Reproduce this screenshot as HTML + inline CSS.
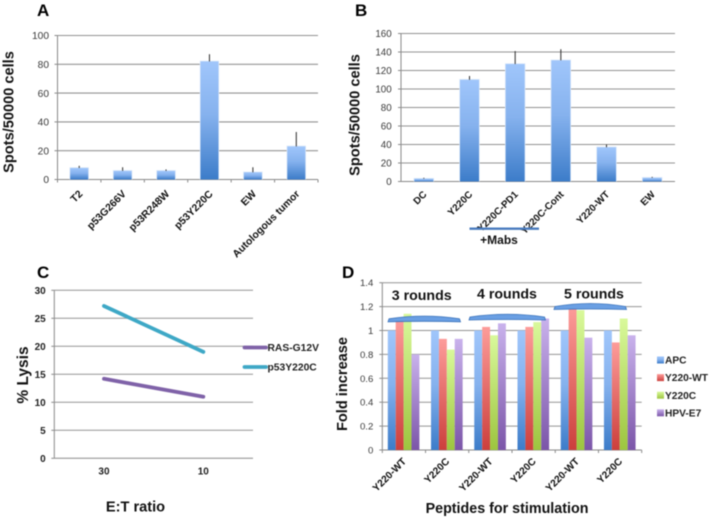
<!DOCTYPE html>
<html>
<head>
<meta charset="utf-8">
<style>
html,body{margin:0;padding:0;background:#fff;}
#fig{display:block;width:709px;height:519px;font-family:"Liberation Sans",sans-serif;filter:blur(0.5px);}
</style>
</head>
<body>
<svg id="fig" xmlns="http://www.w3.org/2000/svg" width="709" height="519" viewBox="0 0 709 519">
<defs>
<linearGradient id="g-blue" x1="0" y1="0" x2="0" y2="1"><stop offset="0" stop-color="#a0c6fb"/><stop offset="0.45" stop-color="#86b2ee"/><stop offset="1" stop-color="#3c7cc9"/></linearGradient>
<linearGradient id="g-red" x1="0" y1="0" x2="0" y2="1"><stop offset="0" stop-color="#fd9c9a"/><stop offset="1" stop-color="#cc3f3c"/></linearGradient>
<linearGradient id="g-green" x1="0" y1="0" x2="0" y2="1"><stop offset="0" stop-color="#d9f99b"/><stop offset="1" stop-color="#9dc53f"/></linearGradient>
<linearGradient id="g-purple" x1="0" y1="0" x2="0" y2="1"><stop offset="0" stop-color="#c9b2ec"/><stop offset="1" stop-color="#7b55a8"/></linearGradient>
</defs>
<g id="root"></g>
</svg>
<script>
// Panel A data
var aCategories = ['T2','p53G266V','p53R248W','p53Y220C','EW','Autologous tumor'];
var aValues = [8,6,6,82,5,23];
var aErrorTops = [9.5,8.5,7,87,8.5,33];
var aTicks = [0,20,40,60,80,100];
// Panel B data
var bCategories = ['DC','Y220C','Y220C-PD1','Y220C-Cont','Y220-WT','EW'];
var bValues = [3,110,127,131,37,4];
var bErrorTops = [4,114,141,143,40,5];
var bTicks = [0,20,40,60,80,100,120,140,160];
// Panel C data
var cCategories = ['30','10'];
var cRas = [14.2,11];
var cP53 = [27.2,19];
var cTicks = [0,5,10,15,20,25,30];
// Panel D data
var dCategories = ['Y220-WT','Y220C','Y220-WT','Y220C','Y220-WT','Y220C'];
var dApc = [1,1,1,1,1,1];
var dWt = [1.09,0.93,1.03,1.03,1.2,0.9];
var dY220c = [1.14,0.84,0.96,1.07,1.17,1.1];
var dE7 = [0.8,0.93,1.06,1.1,0.94,0.96];
var dTicks = ['0','0.2','0.4','0.6','0.8','1','1.2','1.4'];

var NS = 'http://www.w3.org/2000/svg';
var root = document.getElementById('root');
function el(tag, attrs, name, parent){
  var e = document.createElementNS(NS, tag);
  for (var k in attrs) e.setAttribute(k, attrs[k]);
  
  
  (parent || root).appendChild(e);
  return e;
}
function txt(s, x, y, size, opts, name){
  opts = opts || {};
  var a = {x:x, y:y, 'font-size':size, fill:opts.fill || '#000', 'text-anchor':opts.anchor || 'start', 'font-weight':opts.weight || 'bold'};
  if (opts.rotate !== undefined) a.transform = 'rotate(' + opts.rotate + ' ' + x + ' ' + y + ')';
  var t = el('text', a, name);
  t.textContent = s;
  return t;
}
function scale(d0, d1, r0, r1){ return function(v){ return r0 + (v - d0) * (r1 - r0) / (d1 - d0); }; }

function frame(cfg){
  var y = cfg.y, x0 = cfg.x0, x1 = cfg.x1, n = cfg.n, step = (x1 - x0) / n;
  cfg.ticks.forEach(function(t){
    var v = parseFloat(t), py = y(v);
    if (v !== 0) el('line', {x1:x0, x2:x1, y1:py, y2:py, stroke:'#949494', 'stroke-width':cfg.gridW || 1}, cfg.id + '-gridline-' + t);
    el('line', {x1:x0 - 3, x2:x0, y1:py, y2:py, stroke:'#8a8a8a', 'stroke-width':1}, cfg.id + '-y-tick-mark-' + t);
    txt(String(t), x0 - cfg.labelGap, py + cfg.tickSize * 0.36, cfg.tickSize, {anchor:'end', fill:cfg.tickFill || '#3a3a3a', weight:cfg.tickWeight || 'normal'}, cfg.id + '-y-tick-label-' + t);
  });
  el('line', {x1:x0, x2:x0, y1:y(cfg.max), y2:y(0), stroke:'#8a8a8a', 'stroke-width':1}, cfg.id + '-y-axis');
  el('line', {x1:x0, x2:x1, y1:y(0), y2:y(0), stroke:'#8a8a8a', 'stroke-width':1}, cfg.id + '-x-axis');
  if (cfg.xTicks !== false) for (var i = 0; i <= n; i++) {
    el('line', {x1:x0 + i * step, x2:x0 + i * step, y1:y(0), y2:y(0) + 3, stroke:'#8a8a8a', 'stroke-width':1}, cfg.id + '-x-tick-mark-' + i);
  }
}
function simpleBars(id, x0, x1, y, cats, vals, errs, bw, labelSize, labelDy, labelDx){
  var step = (x1 - x0) / cats.length;
  cats.forEach(function(c, i){
    var cx = x0 + step * (i + 0.5);
    el('rect', {x:cx - bw / 2 - 0.7, y:y(vals[i]) - 0.7, width:bw + 1.4, height:y(0) - y(vals[i]) + 0.7, fill:'#dce8f8'}, id + '-bar-halo-' + i);
    el('rect', {x:cx - bw / 2, y:y(vals[i]), width:bw, height:y(0) - y(vals[i]), fill:'url(#g-blue)'}, id + '-bar-' + c);
    el('line', {x1:cx, x2:cx, y1:y(errs[i]), y2:y(vals[i]), stroke:'#2b2b2b', 'stroke-width':1}, id + '-error-bar-' + c);
    txt(c, cx + labelDx, y(0) + labelDy, labelSize, {anchor:'end', rotate:-45, fill:'#111'}, id + '-x-label-' + c);
  });
}

// Panel A
var ya = scale(0, 100, 179.5, 35.5);
frame({id:'a', x0:57.5, x1:318, n:6, y:ya, ticks:aTicks, max:100, labelGap:8.5, tickSize:10.2, gridW:1.1});
simpleBars('a', 57.5, 318, ya, aCategories, aValues, aErrorTops, 18, 10.4, 15, 4);
txt('A', 37, 16, 17, {}, 'panel-a-letter');
txt('Spots/50000 cells', 13.5, 112, 14.6, {anchor:'middle', rotate:-90, fill:'#111'}, 'a-y-axis-title');

// Panel B
var yb = scale(0, 160, 181.5, 33.5);
frame({id:'b', x0:401, x1:675, n:6, y:yb, ticks:bTicks, max:160, labelGap:9.3, tickSize:9.8, xTicks:false, gridW:1.1});
simpleBars('b', 401, 675, yb, bCategories, bValues, bErrorTops, 19, 9.9, 13.5, 3.5);
txt('B', 355, 16, 17, {}, 'panel-b-letter');
txt('Spots/50000 cells', 359.5, 115, 14.6, {anchor:'middle', rotate:-90, fill:'#111'}, 'b-y-axis-title');
el('line', {x1:469.5, x2:539, y1:228.7, y2:228.7, stroke:'#4a7cbf', 'stroke-width':2.4}, 'mabs-bracket-line');
txt('+Mabs', 499, 244, 12, {anchor:'middle', fill:'#111'}, 'mabs-label');

// Panel C
var yc = scale(0, 30, 458.3, 290.3);
var xc = function(i){ return 54.3 + (253 - 54.3) / cCategories.length * (i + 0.5); };
frame({id:'c', x0:54.3, x1:253, n:2, y:yc, ticks:cTicks, max:30, labelGap:8.6, tickSize:10, tickWeight:'bold', tickFill:'#222', xTicks:false});
function linePath(vals){ return vals.map(function(v, i){ return (i ? 'L' : 'M') + xc(i) + ' ' + yc(v); }).join(' '); }
el('path', {d:linePath(cRas), fill:'none', stroke:'#7f62a8', 'stroke-width':3.8, 'stroke-linecap':'round'}, 'c-line-ras-g12v');
el('path', {d:linePath(cP53), fill:'none', stroke:'#3ea8c6', 'stroke-width':3.8, 'stroke-linecap':'round'}, 'c-line-p53y220c');
cCategories.forEach(function(c, i){
  txt(c, xc(i), 474.5, 10, {anchor:'middle', fill:'#222'}, 'c-x-label-' + c);
});
txt('C', 37, 278, 17, {}, 'panel-c-letter');
txt('% Lysis', 28, 375, 15.5, {anchor:'middle', rotate:-90, fill:'#111'}, 'c-y-axis-title');
txt('E:T ratio', 135.5, 511.5, 14.6, {anchor:'middle', fill:'#111'}, 'c-x-axis-title');
el('line', {x1:244.5, x2:266, y1:347.5, y2:347.5, stroke:'#7f62a8', 'stroke-width':3.8, 'stroke-linecap':'round'}, 'legend-swatch-ras-g12v');
el('line', {x1:244.5, x2:266, y1:367, y2:367, stroke:'#3ea8c6', 'stroke-width':3.8, 'stroke-linecap':'round'}, 'legend-swatch-p53y220c');
txt('RAS-G12V', 267.5, 351.2, 10.3, {fill:'#222'}, 'legend-label-ras-g12v');
txt('p53Y220C', 267.5, 370.7, 10.3, {fill:'#222'}, 'legend-label-p53y220c');

// Panel D
var yd = scale(0, 1.4, 450, 282.7);
var dx0 = 382.3, dx1 = 641.7, dStep = (dx1 - dx0) / dCategories.length;
frame({id:'d', x0:dx0, x1:dx1, n:6, y:yd, ticks:dTicks, max:1.4, labelGap:9, tickSize:9.6, gridW:1});
var dSeries = [['apc', dApc, 'url(#g-blue)'], ['y220-wt', dWt, 'url(#g-red)'], ['y220c', dY220c, 'url(#g-green)'], ['hpv-e7', dE7, 'url(#g-purple)']];
dCategories.forEach(function(c, i){
  var left = dx0 + dStep * i + 5.5;
  dSeries.forEach(function(s, j){
    var v = s[1][i];
    el('rect', {x:left + j * 7.9, y:yd(v), width:7.9, height:yd(0) - yd(v), fill:s[2]}, 'd-bar-' + s[0] + '-group-' + (i + 1));
  });
  txt(c, left + 19, yd(0) + 12, 10.1, {anchor:'end', rotate:-45, fill:'#111'}, 'd-x-label-group-' + (i + 1));
});
function lens(x0, x1, yTop, yBot, name){
  var mid = (x0 + x1) / 2;
  var d = 'M' + x0 + ' ' + (yBot - 3) + ' Q' + mid + ' ' + (yTop - 3) + ' ' + x1 + ' ' + (yBot - 3) + ' L' + (x1 + 1) + ' ' + yBot + ' Q' + mid + ' ' + (yBot - 1) + ' ' + (x0 - 1) + ' ' + yBot + ' Z';
  el('path', {d:d, fill:'#6a9fe3', stroke:'#3a72ba', 'stroke-width':0.8}, name);
}
lens(389, 459.5, 316.5, 321.8, 'round-bracket-3');
lens(470, 544.5, 314.5, 320, 'round-bracket-4');
lens(555, 625.5, 303.5, 309.5, 'round-bracket-5');
txt('3 rounds', 421.7, 300, 14.2, {anchor:'middle', fill:'#111'}, 'group-label-3-rounds');
txt('4 rounds', 507, 298.5, 14.2, {anchor:'middle', fill:'#111'}, 'group-label-4-rounds');
txt('5 rounds', 594, 298.5, 14.2, {anchor:'middle', fill:'#111'}, 'group-label-5-rounds');
txt('D', 342, 278, 17, {}, 'panel-d-letter');
txt('Fold increase', 347, 384, 14.6, {anchor:'middle', rotate:-90, fill:'#111'}, 'd-y-axis-title');
txt('Peptides for stimulation', 507, 513, 14.3, {anchor:'middle', fill:'#111'}, 'd-x-axis-title');
var dLegend = ['APC','Y220-WT','Y220C','HPV-E7'];
dLegend.forEach(function(l, i){
  var ly = 360 + i * 17.6;
  el('rect', {x:657, y:ly - 3.5, width:7, height:7, fill:dSeries[i][2]}, 'legend-swatch-' + dSeries[i][0]);
  txt(l, 665, ly + 3.6, 10.2, {fill:'#222'}, 'legend-label-' + dSeries[i][0]);
});
</script>
</body>
</html>
